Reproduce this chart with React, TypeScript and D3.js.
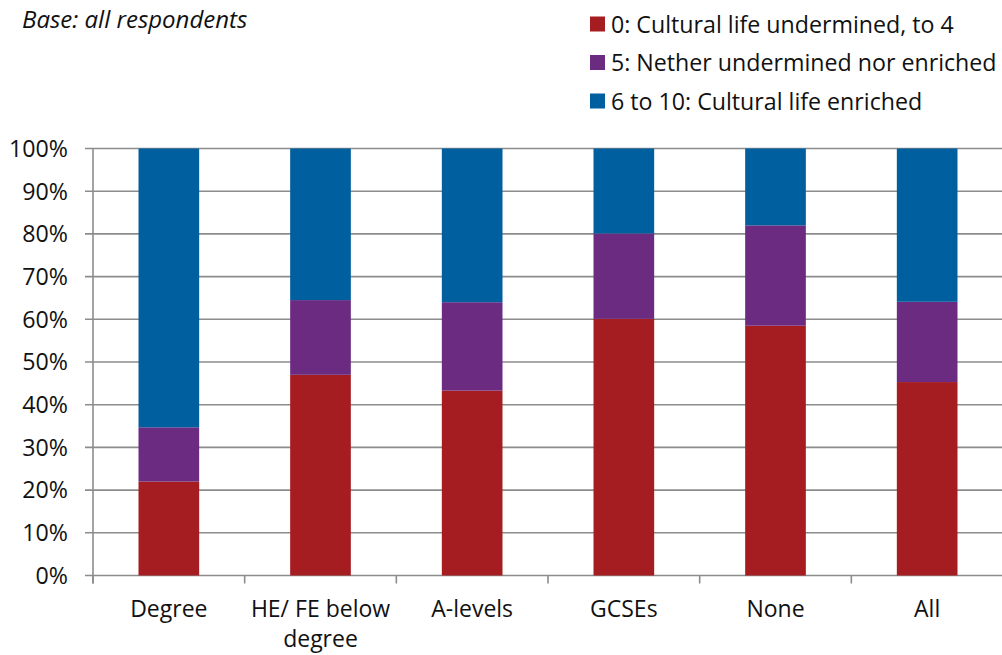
import React from "react";
import * as d3 from "d3";

const categories = ["Degree", "HE/ FE below degree", "A-levels", "GCSEs", "None", "All"];
const categoryLines = [["Degree"], ["HE/ FE below", "degree"], ["A-levels"], ["GCSEs"], ["None"], ["All"]];
const seriesNames = [
  "0: Cultural life undermined, to 4",
  "5: Nether undermined nor enriched",
  "6 to 10: Cultural life enriched",
];
const seriesColors = ["#a51c21", "#6b2b81", "#005f9e"];
const undermined = [22.0, 47.0, 43.3, 60.1, 58.5, 45.3];
const neither = [12.7, 17.5, 20.7, 20.0, 23.5, 18.8];
const enriched = [65.3, 35.5, 36.0, 19.9, 18.0, 35.9];
const yTicks = [0, 10, 20, 30, 40, 50, 60, 70, 80, 90, 100];

const W = 1002;
const H = 655;
const left = 93;
const right = 1003;
const top = 148.5;
const bottom = 575.5;
const FONT = "'Open Sans', sans-serif";

export default function App() {
  const x = d3.scaleBand<string>().domain(categories).range([left, right]).paddingInner(0.6).paddingOuter(0.3);
  const y = d3.scaleLinear().domain([0, 100]).range([bottom, top]);
  const rows = categories.map((c, i) => ({ c, s0: undermined[i], s1: neither[i], s2: enriched[i] }));
  const stacked = d3.stack<any>().keys(["s0", "s1", "s2"])(rows);
  const step = x.step();
  const boundaries = d3.range(categories.length + 1).map((i) => left + i * step);

  return (
    <svg width={W} height={H} style={{ position: "absolute", left: 0, top: 0, background: "#fff" }}>
      <rect x={0} y={0} width={W} height={H} fill="#fff" />
      <text x={22} y={28} fontFamily={FONT} fontStyle="italic" fontSize={24} fill="#111">
        Base: all respondents
      </text>
      {seriesNames.map((n, i) => (
        <g key={n} transform={`translate(590, ${24.5 + i * 38.5})`}>
          <rect x={0} y={-8} width={15} height={15} fill={seriesColors[i]} />
          <text x={21} y={0} dy="0.35em" fontFamily={FONT} fontSize={23.2} fill="#111">
            {n}
          </text>
        </g>
      ))}
      {yTicks.map((t) => (
        <g key={t}>
          <line x1={85} x2={right} y1={y(t)} y2={y(t)} stroke="#8c8c8c" strokeWidth={1.6} />
          <text x={68} y={y(t)} dy="0.36em" textAnchor="end" fontFamily={FONT} fontSize={23.2} fill="#111">
            {t}%
          </text>
        </g>
      ))}
      <line x1={left} x2={left} y1={top} y2={bottom + 8} stroke="#8c8c8c" strokeWidth={1.6} />
      {boundaries.map((b, i) => (
        <line key={i} x1={b} x2={b} y1={bottom} y2={bottom + 8} stroke="#8c8c8c" strokeWidth={1.6} />
      ))}
      {stacked.map((layer, si) => (
        <g key={si}>
          {layer.map((d, i) => (
            <rect
              key={i}
              x={x(categories[i])}
              width={x.bandwidth()}
              y={y(d[1])}
              height={y(d[0]) - y(d[1])}
              fill={seriesColors[si]}
            />
          ))}
        </g>
      ))}
      {categories.map((c, i) => (
        <text
          key={c}
          x={(x(c) as number) + x.bandwidth() / 2}
          y={609}
          textAnchor="middle"
          fontFamily={FONT}
          fontSize={23}
          fill="#111"
        >
          {categoryLines[i].map((l, k) => (
            <tspan key={k} x={(x(c) as number) + x.bandwidth() / 2} dy={k === 0 ? "0.35em" : 30}>
              {l}
            </tspan>
          ))}
        </text>
      ))}
    </svg>
  );
}
